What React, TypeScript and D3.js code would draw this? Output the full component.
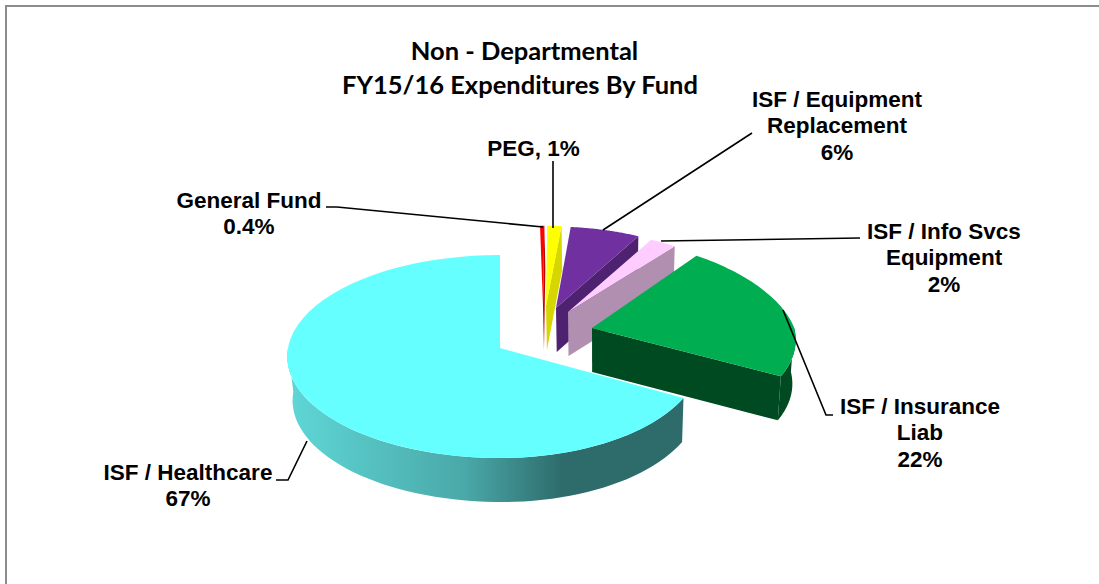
import React from "react";
import * as d3 from "d3";

const W = 1099, H = 584;
const categories = ["General Fund", "PEG", "ISF / Equipment Replacement", "ISF / Info Svcs Equipment", "ISF / Insurance Liab", "ISF / Healthcare"];
const values = [0.4, 1.3, 6.4, 2.4, 22.4, 67.1];
const titleLines = ["Non - Departmental", "FY15/16 Expenditures By Fund"];
const topColors = ["#FF0000", "#FFFF00", "#7030A0", "#FFCCFF", "#00AD50", "#66FFFF"];
const sideColors = ["#C00000", "#D6D600", "#4E2270", "#B08FB0", "#004A21", "url(#cy)"];
// slice apex on screen, radius scale and horizontal scales (explosion and perspective layout)
const apexes: [number, number][] = [[543, 306], [546, 306], [556, 308], [568, 312], [592, 328], [500, 348]];
const radii = [0.92, 0.92, 0.93, 0.93, 1, 1];
const rightScale = [1, 1, 0.985, 1, 0.97, 0.945];
const backSqueeze = [0, 0, 0, 0, 0.066, 0];
const labels = [
  { lines: ["General Fund", "0.4%"], x: 249, y: 208 },
  { lines: ["PEG, 1%"], x: 533.5, y: 156 },
  { lines: ["ISF / Equipment", "Replacement", "6%"], x: 837, y: 107 },
  { lines: ["ISF / Info Svcs", "Equipment", "2%"], x: 944, y: 239 },
  { lines: ["ISF / Insurance", "Liab", "22%"], x: 920, y: 414 },
  { lines: ["ISF / Healthcare", "67%"], x: 188, y: 480 },
];
const leaders = [
  [[326, 207], [337, 207], [543, 227]],
  [[553, 161], [553, 228]],
  [[752, 133], [603, 230]],
  [[860, 238], [661, 241]],
  [[833, 415], [826, 415], [783, 310]],
  [[276, 480], [288, 480], [307, 441]],
];

const K = 0.084, RX = 212, RY = 100.8, OX = 500, OY = 348, DEPTH = 44;
const invY = (d: number) => d / (1 - K * d);
function proj(X: number, Y: number): [number, number] {
  const w = 1 + K * Y;
  return [OX + (RX * X) / w, OY - (RY * Y) / w];
}
function ground(sx: number, sy: number): [number, number] {
  const Y = invY((OY - sy) / RY);
  return [((sx - OX) * (1 + K * Y)) / RX, Y];
}
const down = (p: [number, number]): [number, number] => [600 + (p[0] - 600) * 0.983, p[1] + DEPTH];

const arcs = d3.pie<number>().sort(null)(values);

function rim(i: number, a0: number, a1: number): [number, number][] {
  const [cx, cy] = ground(apexes[i][0], apexes[i][1]);
  const r = radii[i];
  return d3.range(0, 61).map((t) => {
    const a = a0 + ((a1 - a0) * t) / 60;
    const s = Math.sin(a), c = Math.cos(a);
    const sx = s > 0 ? rightScale[i] - Math.max(0, c) * backSqueeze[i] : 1;
    return proj(cx + r * s * sx, cy + r * c);
  });
}
const line = d3.line();

const App = () => {
  const order = [0, 1, 2, 3, 5, 4];
  return (
    <svg width={W} height={H} style={{ position: "absolute", left: 0, top: 0 }}>
      <defs>
        <linearGradient id="cy" gradientUnits="userSpaceOnUse" x1={290} x2={680} y1={0} y2={0}>
          <stop offset="0" stopColor="#5FD6D6" />
          <stop offset="0.45" stopColor="#4AA8A8" />
          <stop offset="0.7" stopColor="#2E6B6B" />
          <stop offset="1" stopColor="#2E6B6B" />
        </linearGradient>
      </defs>
      <path d={`M6,${H}V6H${W}`} fill="none" stroke="#8c8c8c" strokeWidth={2} />
      {order.map((i) => {
        const { startAngle: a0, endAngle: a1 } = arcs[i];
        const top = rim(i, a0, a1);
        const apex = apexes[i];
        const parts: React.ReactNode[] = [];
        const s0 = Math.max(a0, Math.PI / 2), s1 = Math.min(a1, (3 * Math.PI) / 2);
        if (s1 > s0) {
          const r = rim(i, s0, s1);
          parts.push(<path key="w" d={line([...r, ...r.slice().reverse().map(down)])! + "Z"} fill={sideColors[i]} />);
        }
        if (a1 < Math.PI) {
          const e = top[top.length - 1];
          parts.push(<path key="c" d={line([apex, e, down(e), down(apex)])! + "Z"} fill={sideColors[i]} />);
        }
        parts.push(<path key="t" d={line([apex, ...top])! + "Z"} fill={topColors[i]} />);
        return <g key={categories[i]}>{parts}</g>;
      })}
      {leaders.map((l, i) => (
        <path key={i} d={line(l as [number, number][])!} fill="none" stroke="#000" strokeWidth={1.6} />
      ))}
      <g fontFamily="Lato" fontWeight={700} fontSize={25.5} textAnchor="middle" fill="#000">
        {titleLines.map((t, i) => (
          <text key={t} x={i === 0 ? 524.5 : 520} y={60 + i * 34}>{t}</text>
        ))}
      </g>
      <g fontFamily="Liberation Sans" fontWeight={700} fontSize={22.5} textAnchor="middle" fill="#000">
        {labels.map((l) =>
          l.lines.map((t, j) => (
            <text key={t} x={l.x} y={l.y + j * 26.3}>{t}</text>
          ))
        )}
      </g>
    </svg>
  );
};
export default App;
